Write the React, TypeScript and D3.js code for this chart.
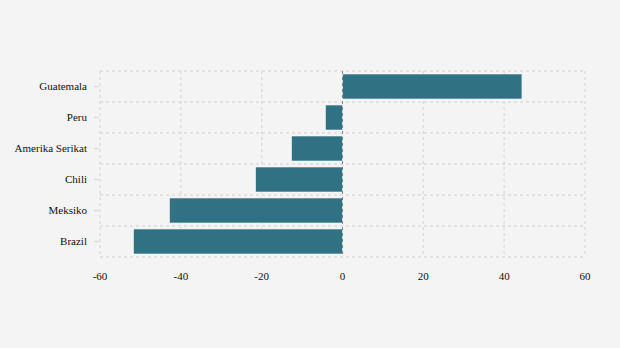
import React, { useEffect, useRef } from "react";
import * as d3 from "d3";

const categories = ["Guatemala", "Peru", "Amerika Serikat", "Chili", "Meksiko", "Brazil"];
const values = [44.4, -4.2, -12.6, -21.5, -42.8, -51.7];
const xTicks = [-60, -40, -20, 0, 20, 40, 60];

const W = 620;
const H = 348;
const M = { left: 100, right: 35, top: 71, bottom: 91 };

export default function App() {
  const ref = useRef<SVGSVGElement>(null);
  useEffect(() => {
    const svg = d3.select(ref.current);
    svg.selectAll("*").remove();
    const x = d3.scaleLinear().domain([-60, 60]).range([M.left, W - M.right]);
    const y = d3.scaleBand().domain(categories).range([M.top, H - M.bottom]).paddingInner(0).paddingOuter(0);
    const font = "'Liberation Serif', 'Times New Roman', serif";

    svg.append("rect").attr("width", W).attr("height", H).attr("fill", "#f4f4f4");

    const g = svg.append("g");
    g.selectAll("line.vg").data(xTicks).join("line")
      .attr("x1", d => x(d)).attr("x2", d => x(d))
      .attr("y1", M.top).attr("y2", H - M.bottom)
      .attr("stroke", "#dcdcdc").attr("stroke-width", 1.3).attr("stroke-dasharray", "3,3");
    const hy = categories.map(c => y(c)!).concat([H - M.bottom]);
    g.selectAll("line.hg").data(hy).join("line")
      .attr("x1", M.left).attr("x2", W - M.right)
      .attr("y1", d => d).attr("y2", d => d)
      .attr("stroke", "#dcdcdc").attr("stroke-width", 1.3).attr("stroke-dasharray", "3,3");

    g.selectAll("line.yt").data(categories).join("line")
      .attr("x1", M.left - 6).attr("x2", M.left - 1)
      .attr("y1", d => y(d)! + y.bandwidth() / 2).attr("y2", d => y(d)! + y.bandwidth() / 2)
      .attr("stroke", "#dcdcdc").attr("stroke-width", 1.3);

    const pad = 3;
    g.selectAll("rect.bar").data(values).join("rect")
      .attr("x", d => x(Math.min(0, d)))
      .attr("width", d => Math.abs(x(d) - x(0)))
      .attr("y", (d, i) => y(categories[i])! + pad)
      .attr("height", y.bandwidth() - 2 * pad)
      .attr("fill", "#2d6e82")
      .attr("fill-opacity", 0.98)
      .attr("stroke", "#f4f4f4").attr("stroke-width", 0.6);

    g.append("line")
      .attr("x1", x(0)).attr("x2", x(0))
      .attr("y1", M.top).attr("y2", H - M.bottom)
      .attr("stroke", "#444").attr("stroke-width", 1).attr("stroke-dasharray", "3,3").attr("opacity", 0.55);

    g.selectAll("text.yl").data(categories).join("text")
      .attr("x", 87).attr("y", d => y(d)! + y.bandwidth() / 2)
      .attr("dy", "0.35em").attr("text-anchor", "end")
      .attr("font-family", font).attr("font-size", 11).attr("fill", "#111")
      .text(d => d);

    g.selectAll("text.xl").data(xTicks).join("text")
      .attr("x", d => x(d)).attr("y", 280)
      .attr("text-anchor", "middle")
      .attr("font-family", font).attr("font-size", 11).attr("fill", "#111")
      .text(d => String(d));
  }, []);
  return (
    <div style={{ position: "fixed", left: 0, top: 0 }}>
      <svg ref={ref} width={W} height={H} style={{ display: "block" }} />
    </div>
  );
}
